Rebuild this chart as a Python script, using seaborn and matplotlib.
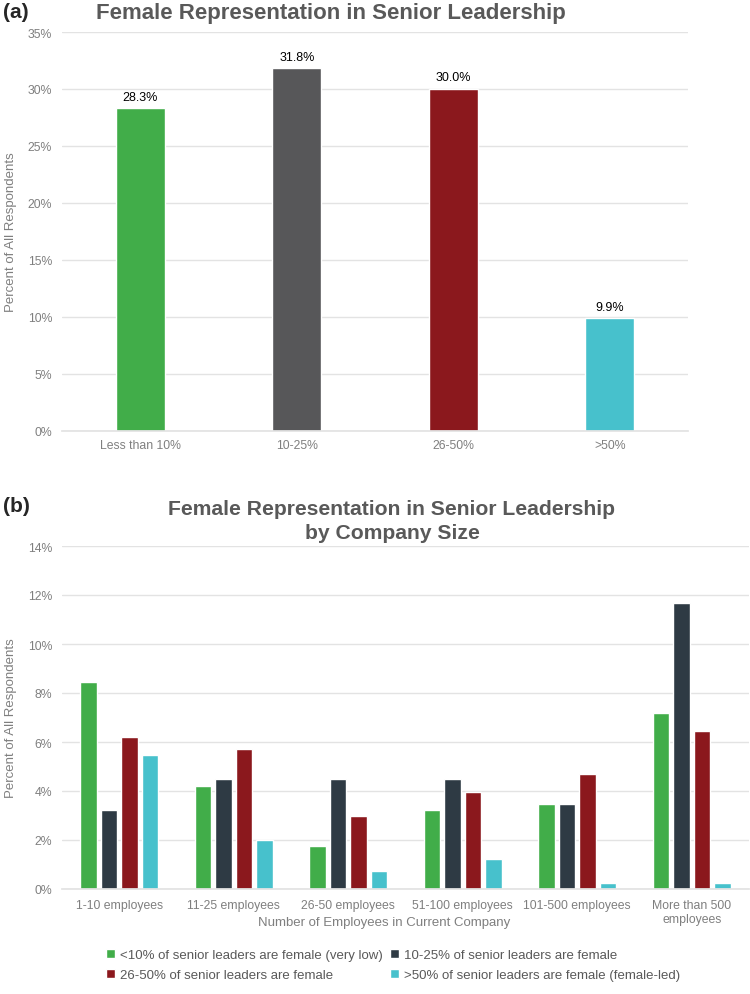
import pandas as pd
import seaborn as sns
import matplotlib.pyplot as plt
import matplotlib.ticker as ticker

# --- data: panel (a) ---
overall_cats = ["Less than 10%", "10-25%", "26-50%", ">50%"]
overall_pct = [28.3, 31.8, 30.0, 9.9]

# --- data: panel (b) ---
size_cats = ["1-10 employees", "11-25 employees", "26-50 employees",
             "51-100 employees", "101-500 employees", "More than 500\nemployees"]
level_cats = ["<10% of senior leaders are female (very low)",
              "10-25% of senior leaders are female",
              "26-50% of senior leaders are female",
              ">50% of senior leaders are female (female-led)"]
pct_very_low = [8.44, 4.22, 1.74, 3.23, 3.47, 7.20]
pct_10_25 = [3.23, 4.47, 4.47, 4.47, 3.47, 11.66]
pct_26_50 = [6.20, 5.71, 2.98, 3.97, 4.71, 6.45]
pct_female_led = [5.46, 1.99, 0.74, 1.24, 0.25, 0.25]

colors_a = ["#41AD49", "#575759", "#8B181D", "#47C1CC"]
colors_b = ["#41AD49", "#2E3A44", "#8B181D", "#47C1CC"]

TITLE_GRAY = "#595959"
GRAY = "#7F7F7F"
GRID = "#E3E3E3"


def style_axis(ax, top):
    ax.set_ylim(0, top)
    ax.yaxis.set_major_formatter(ticker.PercentFormatter(xmax=100, decimals=0))
    ax.grid(axis="y", color=GRID, linewidth=1)
    ax.grid(axis="x", visible=False)
    ax.set_axisbelow(True)
    for s in ["top", "right", "left"]:
        ax.spines[s].set_visible(False)
    ax.spines["bottom"].set_color(GRID)
    ax.tick_params(axis="both", length=0, colors=GRAY, labelsize=8.8)
    ax.tick_params(axis="y", pad=7)


def create_plots():
    sns.set_theme(style="white")
    plt.rcParams["font.family"] = ["Liberation Sans", "DejaVu Sans"]

    fig = plt.figure(figsize=(7.5, 9.95), dpi=100)

    # --- Panel (a) ---
    df_a = pd.DataFrame({"cat": overall_cats, "pct": overall_pct})
    ax1 = fig.add_axes([62 / 750, 1 - 432 / 995, 626 / 750, 399 / 995])
    sns.barplot(data=df_a, x="cat", y="pct", hue="cat", palette=colors_a,
                order=overall_cats, hue_order=overall_cats, width=0.313,
                legend=False, ax=ax1, saturation=1)
    style_axis(ax1, 35)
    ax1.set_yticks(range(0, 36, 5))
    ax1.tick_params(axis="x", pad=6)
    ax1.set_xlabel("")
    ax1.set_ylabel("Percent of All Respondents", color=GRAY, fontsize=9.5, labelpad=8)
    for cont in ax1.containers:
        ax1.bar_label(cont, fmt="%.1f%%", padding=4, fontsize=9, color="black")
    ax1.set_title("Female Representation in Senior Leadership", fontsize=16,
                  fontweight="bold", color=TITLE_GRAY, pad=10,
                  x=(331 - 62) / 626)

    # --- Panel (b) ---
    df_b = pd.DataFrame({
        "size": size_cats * 4,
        "level": [lv for lv in level_cats for _ in size_cats],
        "pct": pct_very_low + pct_10_25 + pct_26_50 + pct_female_led,
    })
    ax2 = fig.add_axes([62 / 750, 1 - 890 / 995, 687 / 750, 343 / 995])
    sns.barplot(data=df_b, x="size", y="pct", hue="level", order=size_cats,
                hue_order=level_cats, palette=colors_b, width=0.72, gap=0.2,
                ax=ax2, saturation=1)
    style_axis(ax2, 14)
    ax2.set_yticks(range(0, 15, 2))
    ax2.tick_params(axis="x", pad=7)
    ax2.set_xlabel("Number of Employees in Current Company", color=GRAY, fontsize=9.5)
    ax2.xaxis.set_label_coords((384 - 62) / 687, -0.078)
    ax2.set_ylabel("Percent of All Respondents", color=GRAY, fontsize=9.5, labelpad=8)
    ax2.set_title("Female Representation in Senior Leadership\nby Company Size",
                  fontsize=15.2, fontweight="bold", color=TITLE_GRAY, pad=6,
                  linespacing=1.3, x=(392 - 62) / 687)

    # legend filled row by row like the reference
    handles, labels = ax2.get_legend_handles_labels()
    ax2.get_legend().remove()
    order = [0, 2, 1, 3]
    fig.legend([handles[i] for i in order], [labels[i] for i in order],
               loc="upper left", ncol=2, frameon=False,
               bbox_to_anchor=(94 / 750, 1 - 938 / 995), fontsize=9.5,
               handlelength=0.7, handleheight=0.7, handletextpad=0.4,
               columnspacing=0.5, labelspacing=0.6, labelcolor=TITLE_GRAY)

    # Panel letters
    fig.text(3 / 750, 1 - 13 / 995, "(a)", fontsize=15, fontweight="bold",
             va="center", ha="left")
    fig.text(3 / 750, 1 - 507 / 995, "(b)", fontsize=15, fontweight="bold",
             va="center", ha="left")

    fig.savefig("out.png", dpi=100)


if __name__ == "__main__":
    create_plots()
